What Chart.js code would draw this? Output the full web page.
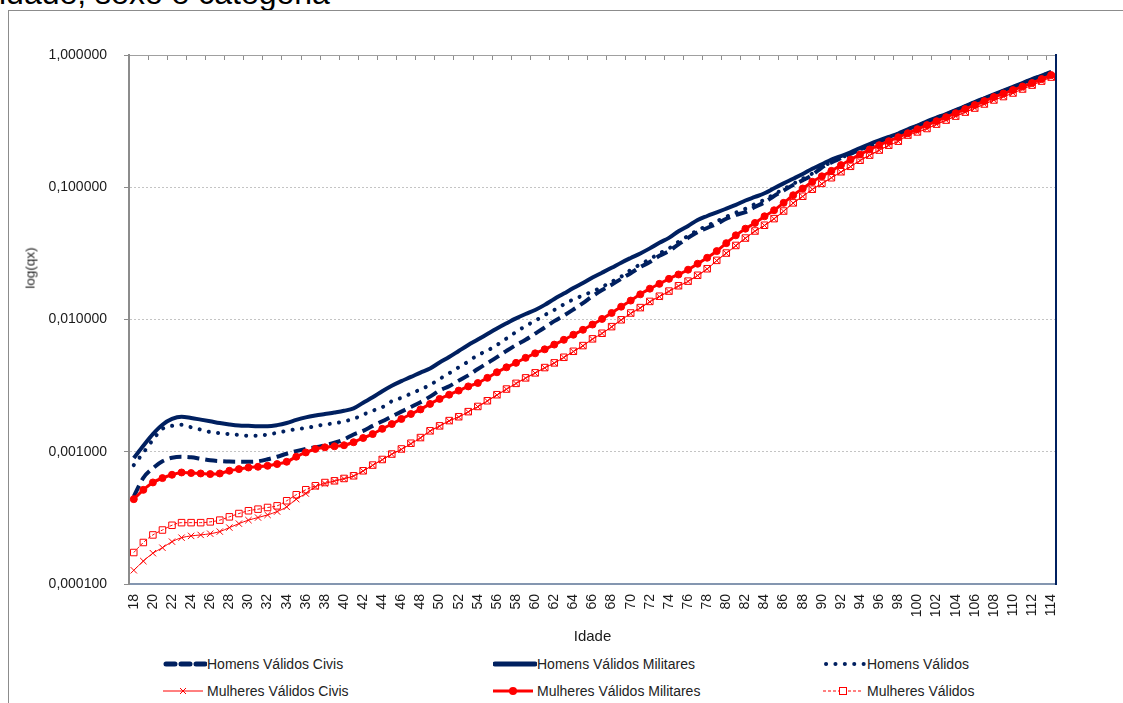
<!DOCTYPE html>
<html>
<head>
<meta charset="utf-8">
<script src="https://cdn.jsdelivr.net/npm/chart.js@4.4.1/dist/chart.umd.min.js"></script>
<style>
html, body { margin: 0; padding: 0; background: #fff; overflow: hidden; }
body { width: 1123px; height: 703px; position: relative; font-family: 'Liberation Sans', Arial, sans-serif; color: #222; }
#title { position: absolute; left: -1px; top: -23px; font-size: 32px; line-height: 32px; white-space: nowrap; color: #000; }
#frame { position: absolute; left: 8px; top: 10px; width: 1200px; height: 800px; border-left: 1px solid #8c8c8c; border-top: 1px solid #8c8c8c; }
#chart { position: absolute; left: 0; top: 0; }
#ytitle { position: absolute; left: 30px; top: 268px; transform: translate(-50%, -50%) rotate(-90deg); font-size: 13.5px; white-space: nowrap; }
.leg { position: absolute; height: 20px; display: flex; align-items: center; font-size: 14px; white-space: nowrap; }
.leg svg { display: block; }
</style>
</head>
<body>
<div id="title">idade, sexo e categoria</div>
<div id="frame"></div>
<canvas id="chart" width="1123" height="650"></canvas>
<div id="ytitle">log(qx)</div>
<div id="legend"></div>

<script>
// idades (eixo x)
const ages = ['18','19','20','21','22','23','24','25','26','27','28','29','30','31','32','33','34','35','36','37','38','39','40',
  '41','42','43','44','45','46','47','48','49','50','51','52','53','54','55','56','57','58','59','60','61','62','63','64','65',
  '66','67','68','69','70','71','72','73','74','75','76','77','78','79','80','81','82','83','84','85','86','87','88','89','90',
  '91','92','93','94','95','96','97','98','99','100','101','102','103','104','105','106','107','108','109','110','111','112','113','114'];

const yTicks = [0.0001, 0.001, 0.01, 0.1, 1];

// Homens Válidos Civis
const homensCivis = [0.000460,0.000635,0.000750,0.000847,0.000901,0.000917,0.000909,0.000885,0.000862,0.000850,0.000843,
  0.000840,0.000840,0.000847,0.000877,0.000917,0.000966,0.00101,0.00105,0.00108,0.00112,0.00117,0.00124,0.00135,0.00144,
  0.00157,0.00170,0.00185,0.00201,0.00218,0.00237,0.00261,0.00290,0.00313,0.00345,0.00378,0.00422,0.00468,0.00519,0.00579,
  0.00642,0.00703,0.00782,0.00870,0.00972,0.0107,0.0119,0.0133,0.0150,0.0167,0.0183,0.0203,0.0224,0.0249,0.0272,0.0303,
  0.0329,0.0370,0.0414,0.0457,0.0492,0.0529,0.0578,0.0617,0.0649,0.0709,0.0769,0.0859,0.0944,0.104,0.113,0.124,0.141,0.154,
  0.166,0.179,0.192,0.206,0.221,0.236,0.252,0.270,0.290,0.310,0.333,0.354,0.380,0.407,0.437,0.467,0.498,0.533,0.569,0.608,
  0.652,0.693,0.739];

// Homens Válidos Militares
const homensMilitares = [0.000896,0.00111,0.00136,0.00160,0.00177,0.00184,0.00180,0.00175,0.00170,0.00165,0.00161,0.00158,
  0.00157,0.00156,0.00156,0.00159,0.00165,0.00174,0.00182,0.00188,0.00193,0.00198,0.00204,0.00213,0.00235,0.00258,0.00287,
  0.00316,0.00342,0.00368,0.00397,0.00426,0.00473,0.00520,0.00578,0.00642,0.00705,0.00777,0.00855,0.00936,0.0102,0.0110,
  0.0118,0.0129,0.0143,0.0157,0.0173,0.0189,0.0208,0.0226,0.0246,0.0269,0.0292,0.0316,0.0345,0.0381,0.0414,0.0465,0.0510,
  0.0565,0.0606,0.0646,0.0689,0.0735,0.0794,0.0844,0.0900,0.0983,0.107,0.116,0.126,0.138,0.149,0.162,0.172,0.184,0.198,
  0.212,0.226,0.240,0.255,0.274,0.293,0.315,0.336,0.358,0.383,0.411,0.441,0.471,0.503,0.537,0.574,0.614,0.658,0.699,0.746];

// Homens Válidos
const homensValidos = [0.000793,0.000983,0.00123,0.00149,0.00157,0.00160,0.00153,0.00147,0.00141,0.00138,0.00136,0.00134,
  0.00132,0.00132,0.00135,0.00139,0.00144,0.00148,0.00151,0.00156,0.00161,0.00164,0.00170,0.00177,0.00191,0.00204,0.00217,
  0.00241,0.00256,0.00275,0.00296,0.00320,0.00355,0.00392,0.00435,0.00481,0.00538,0.00582,0.00642,0.00718,0.00804,0.00893,
  0.00978,0.0108,0.0118,0.0130,0.0142,0.0152,0.0163,0.0176,0.0193,0.0211,0.0237,0.0261,0.0286,0.0316,0.0345,0.0387,0.0429,
  0.0473,0.0511,0.0553,0.0598,0.0642,0.0687,0.0746,0.0804,0.0883,0.0969,0.106,0.116,0.127,0.142,0.155,0.167,0.180,0.193,
  0.207,0.222,0.237,0.253,0.271,0.291,0.311,0.334,0.355,0.381,0.408,0.438,0.468,0.499,0.534,0.570,0.609,0.653,0.694,0.740];

// Mulheres Válidos Civis
const mulheresCivis = [0.000127,0.000149,0.000171,0.000188,0.000209,0.000224,0.000231,0.000235,0.000240,0.000249,0.000267,
  0.000286,0.000304,0.000318,0.000333,0.000353,0.000383,0.000438,0.000483,0.000543,0.000575,0.000600,0.000625,0.000655,
  0.000715,0.000790,0.000870,0.000957,0.00104,0.00115,0.00127,0.00143,0.00156,0.00171,0.00183,0.00200,0.00219,0.00242,
  0.00268,0.00297,0.00328,0.00360,0.00393,0.00431,0.00468,0.00516,0.00572,0.00632,0.00711,0.00784,0.00879,0.00991,0.0111,
  0.0122,0.0136,0.0149,0.0163,0.0179,0.0194,0.0215,0.0241,0.0279,0.0317,0.0361,0.0411,0.0465,0.0514,0.0577,0.0658,0.0759,
  0.0852,0.0962,0.106,0.118,0.130,0.143,0.159,0.174,0.190,0.207,0.222,0.247,0.261,0.277,0.299,0.321,0.344,0.369,0.396,0.425,
  0.456,0.484,0.515,0.552,0.591,0.634,0.680];

// Mulheres Válidos Militares
const mulheresMilitares = [0.000438,0.000515,0.000586,0.000632,0.000670,0.000697,0.000690,0.000685,0.000678,0.000685,
  0.000718,0.000739,0.000760,0.000770,0.000783,0.000807,0.000840,0.000917,0.000988,0.00105,0.00108,0.00110,0.00112,0.00118,
  0.00127,0.00136,0.00149,0.00162,0.00177,0.00193,0.00209,0.00230,0.00251,0.00270,0.00290,0.00312,0.00331,0.00362,0.00399,
  0.00435,0.00470,0.00513,0.00555,0.00595,0.00646,0.00702,0.00767,0.00836,0.00916,0.0101,0.0112,0.0125,0.0139,0.0155,
  0.0171,0.0186,0.0203,0.0219,0.0238,0.0264,0.0293,0.0329,0.0378,0.0433,0.0486,0.0537,0.0603,0.0670,0.0762,0.0870,0.0978,
  0.110,0.121,0.133,0.147,0.162,0.177,0.193,0.208,0.223,0.239,0.256,0.275,0.295,0.316,0.339,0.363,0.390,0.418,0.448,0.481,
  0.511,0.543,0.578,0.614,0.658,0.705];

// Mulheres Válidos
const mulheresValidos = [0.000173,0.000206,0.000235,0.000256,0.000278,0.000291,0.000291,0.000291,0.000295,0.000304,0.000322,
  0.000341,0.000358,0.000368,0.000379,0.000390,0.000426,0.000473,0.000516,0.000553,0.000585,0.000603,0.000628,0.000658,
  0.000718,0.000793,0.000874,0.000961,0.00105,0.00116,0.00128,0.00144,0.00157,0.00172,0.00184,0.00201,0.00220,0.00243,
  0.00270,0.00298,0.00329,0.00362,0.00395,0.00433,0.00470,0.00518,0.00575,0.00635,0.00714,0.00787,0.00883,0.00995,0.0112,
  0.0123,0.0137,0.0150,0.0164,0.0180,0.0195,0.0216,0.0242,0.0280,0.0318,0.0363,0.0413,0.0467,0.0516,0.0579,0.0661,0.0762,
  0.0855,0.0966,0.107,0.118,0.131,0.144,0.160,0.175,0.191,0.208,0.223,0.248,0.262,0.278,0.300,0.322,0.345,0.370,0.397,0.426,
  0.457,0.485,0.516,0.553,0.592,0.635,0.681];

const navy = '#002060';
const red = '#ff0000';
const fontFamily = "'Liberation Sans', Arial, sans-serif";

Chart.defaults.font.family = fontFamily;
Chart.defaults.color = '#1a1a1a';

const ctx = document.getElementById('chart').getContext('2d');
const chart = new Chart(ctx, {
    type: 'line',
    data: {
        labels: ages,
        datasets: [
            { label: 'Homens Válidos Civis', data: homensCivis, borderColor: navy, borderWidth: 4,
              borderDash: [12, 6], pointRadius: 0, order: 6 },
            { label: 'Homens Válidos Militares', data: homensMilitares, borderColor: navy, borderWidth: 4,
              pointRadius: 0, order: 5 },
            { label: 'Homens Válidos', data: homensValidos, borderColor: navy, borderWidth: 4,
              borderDash: [0.1, 9.3], borderCapStyle: 'round', pointRadius: 0, order: 4 },
            { label: 'Mulheres Válidos Civis', data: mulheresCivis, borderColor: red, borderWidth: 1,
              pointStyle: 'crossRot', pointRadius: 4.5, pointBorderColor: red, pointBorderWidth: 1, order: 3 },
            { label: 'Mulheres Válidos Militares', data: mulheresMilitares, borderColor: red, borderWidth: 3,
              pointStyle: 'circle', pointRadius: 3.5, pointBackgroundColor: red, pointBorderColor: red,
              pointBorderWidth: 1, order: 2 },
            { label: 'Mulheres Válidos', data: mulheresValidos, borderColor: red, borderWidth: 1, borderDash: [3, 2],
              pointStyle: 'rect', pointRadius: 4.6, pointBackgroundColor: 'rgba(255,255,255,0)',
              pointBorderColor: red, pointBorderWidth: 1, order: 1 }
        ]
    },
    options: {
        responsive: false,
        animation: false,
        events: [],
        layout: { padding: { left: 0, top: 55, right: 67, bottom: 0 } },
        elements: { line: { cubicInterpolationMode: 'monotone' } },
        plugins: { legend: { display: false }, tooltip: { enabled: false } },
        scales: {
            x: {
                type: 'category',
                offset: true,
                grid: { display: false, drawTicks: false },
                border: { display: true, color: '#8496b0', width: 2 },
                ticks: {
                    autoSkip: false, maxRotation: 90, minRotation: 90, padding: 10,
                    color: '#1a1a1a', font: { size: 14 },
                    callback: function (v, i) { return i % 2 === 0 ? this.getLabelForValue(v) : null; }
                },
                title: { display: true, text: 'Idade', color: '#1a1a1a', font: { size: 15 }, padding: { top: 4, bottom: 4 } },
                afterFit: function (s) { s.height = 66; }
            },
            xTop: {
                type: 'category',
                position: 'top',
                offset: true,
                grid: {
                    display: true, offset: true, drawOnChartArea: false, drawTicks: true, tickLength: -5,
                    color: function (c) { return c.index % 2 === 0 ? '#8c8c8c' : 'rgba(0,0,0,0)'; }
                },
                border: { display: true, color: '#a0a0a0', width: 1 },
                ticks: { display: false },
                afterFit: function (s) { s.height = 0; }
            },
            y: {
                type: 'logarithmic',
                min: 0.0001,
                max: 1,
                afterBuildTicks: function (s) { s.ticks = yTicks.map(v => ({ value: v })); },
                ticks: {
                    padding: 17, color: '#1a1a1a', font: { size: 14 },
                    callback: v => v.toFixed(6).replace('.', ',')
                },
                grid: { color: '#c4c4c4', tickColor: '#8c8c8c', tickLength: 5 },
                border: { display: true, color: '#8c8c8c', width: 2, dash: [2, 2] },
                afterFit: function (s) { s.width = 129; }
            },
            y2: {
                type: 'logarithmic',
                position: 'right',
                min: 0.0001,
                max: 1,
                ticks: { display: false },
                grid: { display: false, drawTicks: false },
                border: { display: true, color: navy, width: 2 },
                afterFit: function (s) { s.width = 0; }
            }
        }
    }
});

// legenda em 3 colunas, 2 linhas
const samples = [
    '<line x1="3" y1="6" x2="44" y2="6" stroke="' + navy + '" stroke-width="5" stroke-dasharray="9,6" stroke-linecap="round"/>',
    '<line x1="2" y1="6" x2="42" y2="6" stroke="' + navy + '" stroke-width="5" stroke-linecap="round"/>',
    '<line x1="3" y1="6" x2="42" y2="6" stroke="' + navy + '" stroke-width="4" stroke-dasharray="0.1,9.3" stroke-linecap="round"/>',
    '<line x1="0" y1="6" x2="40" y2="6" stroke="' + red + '" stroke-width="1"/><path d="M17 3 L23 9 M23 3 L17 9" stroke="' + red + '" stroke-width="1"/>',
    '<line x1="0" y1="6" x2="40" y2="6" stroke="' + red + '" stroke-width="3"/><circle cx="20" cy="6" r="4" fill="' + red + '"/>',
    '<line x1="0" y1="6" x2="40" y2="6" stroke="' + red + '" stroke-width="1" stroke-dasharray="3,2"/><rect x="16.5" y="2.5" width="7" height="7" fill="#fff" stroke="' + red + '" stroke-width="1"/>'
];
const colX = [163, 493, 823];
const rowY = [654, 681];
const legend = document.getElementById('legend');
chart.data.datasets.forEach(function (ds, i) {
    const item = document.createElement('div');
    item.className = 'leg';
    item.style.left = colX[i % 3] + 'px';
    item.style.top = rowY[Math.floor(i / 3)] + 'px';
    item.innerHTML = '<svg width="44" height="12">' + samples[i] + '</svg><span>' + ds.label + '</span>';
    legend.appendChild(item);
});
</script>
</body>
</html>
